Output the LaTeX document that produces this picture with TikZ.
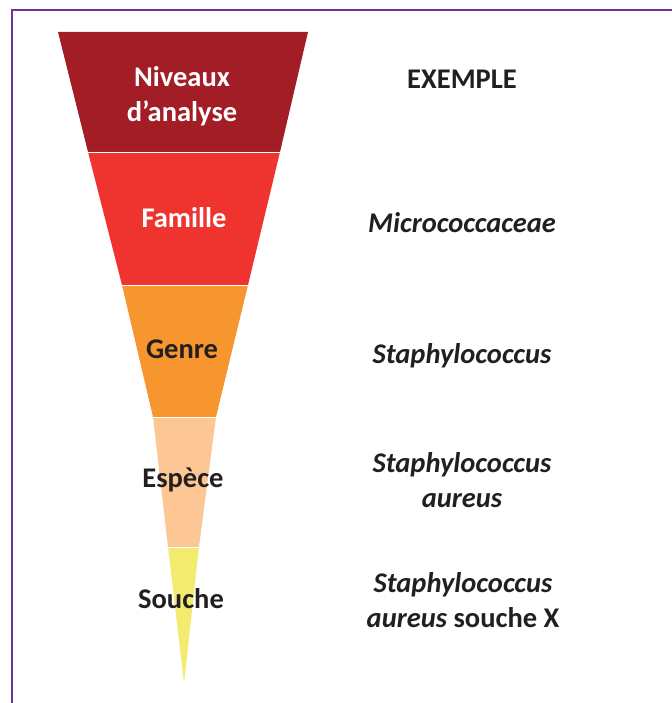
\documentclass[tikz,border=0pt]{standalone}
\usepackage{fontspec}
\setmainfont{Carlito}
\usetikzlibrary{positioning}
\definecolor{frame1}{HTML}{7030A0}
\definecolor{level1}{HTML}{A21D26}
\definecolor{level2}{HTML}{EF3430}
\definecolor{level3}{HTML}{F7962E}
\definecolor{level4}{HTML}{FDC795}
\definecolor{level5}{HTML}{F2EB6F}
\definecolor{ink}{HTML}{231F20}
\tikzset{
  slab/.style={draw=white, line width=0.6pt},
  lbl/.style={anchor=base, align=center, inner sep=0pt, text=ink,
    font=\fontsize{28.5}{35}\selectfont\bfseries},
}
\begin{document}
\begin{tikzpicture}[x=1pt,y=-1pt]
\useasboundingbox (0,0) rectangle (671,703);
\draw[frame1, line width=2.2pt] (12,710) |- (680,10);
% funnel, top to bottom
\fill[level1] (58,32) -- (308,32) -- (280,152) -- (88,152) -- cycle;
\fill[level2] (88,152) -- (280,152) -- (248,285) -- (122,285) -- cycle;
\fill[level3] (122,285) -- (248,285) -- (216,417) -- (153,417) -- cycle;
\fill[level4] (153,417) -- (216,417) -- (199,547) -- (168,547) -- cycle;
\fill[level5] (168,547) -- (199,547) -- (184,683) -- cycle;
\draw[slab] (88,152) -- (280,152);
\draw[slab] (122,285) -- (248,285);
\draw[slab] (153,417) -- (216,417);
\draw[slab] (168,547) -- (199,547);
% levels (two-line labels sit on their last baseline)
\node[lbl, text=white] (niveaux) at (182,122) {Niveaux\\d’analyse};
\node[lbl, text=white] (famille) at (184,227) {Famille};
\node[lbl] (genre) at (182,358) {Genre};
\node[lbl] (espece) at (183,487) {Espèce};
\node[lbl] (souche) at (181,608) {Souche};
% examples
\node[lbl] (exemple) at (462,89) {EXEMPLE};
\node[lbl] (familleEx) at (462,233) {\itshape Micrococcaceae};
\node[lbl] (genreEx) at (462,363) {\itshape Staphylococcus};
\node[lbl] (especeEx) at (462,507) {\itshape Staphylococcus\\\itshape aureus};
\node[lbl] (soucheEx) at (463,627) {\itshape Staphylococcus\\\textit{aureus} souche X};
\end{tikzpicture}
\end{document}
